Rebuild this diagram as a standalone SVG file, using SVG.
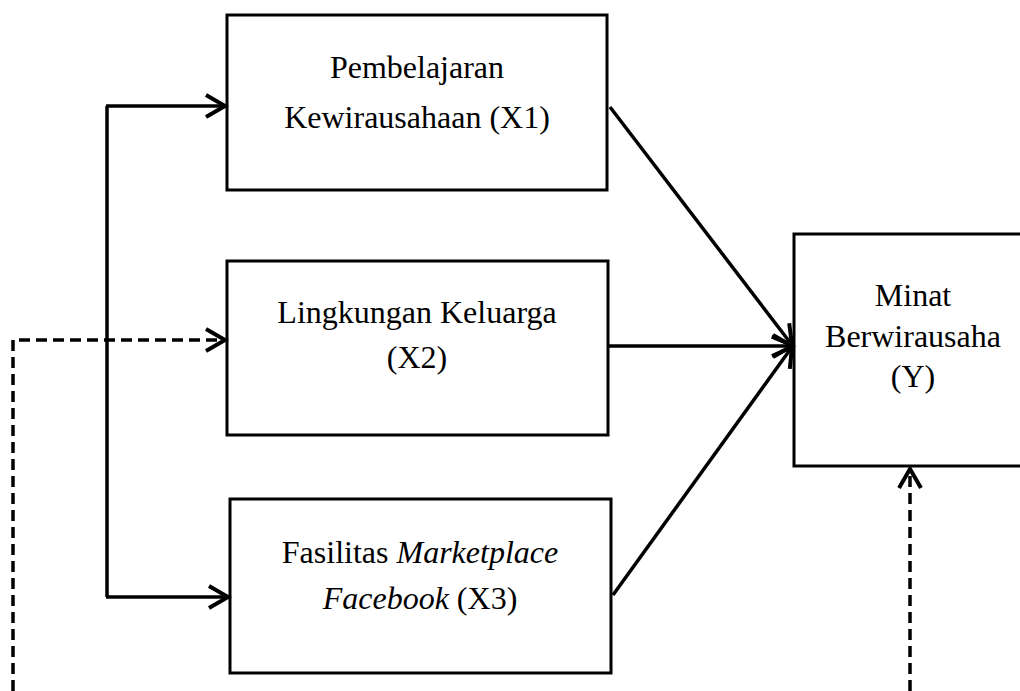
<svg xmlns="http://www.w3.org/2000/svg" width="1020" height="691" viewBox="0 0 1020 691">
<style>
.box{fill:#fff;stroke:#000;stroke-width:3}
.t{font-family:"Liberation Serif","Times New Roman",serif;font-size:32px;fill:#000;text-anchor:middle}
.c{fill:none;stroke:#000;stroke-width:3.5}
.d{fill:none;stroke:#000;stroke-width:3.5;stroke-dasharray:11 6}
</style>
<defs>
<marker id="arr" markerUnits="userSpaceOnUse" viewBox="0 0 24 26" refX="21" refY="13" markerWidth="24" markerHeight="26" orient="auto" overflow="visible">
<path d="M2,2 L21,13 L2,24" fill="none" stroke="#000" stroke-width="4"/>
</marker>
</defs>
<rect width="1020" height="691" fill="#fff"/>
<g id="x1">
<rect class="box" x="227" y="15" width="380" height="175"/>
<text class="t" x="417" y="78">Pembelajaran</text>
<text class="t" x="417" y="128">Kewirausahaan (X1)</text>
</g>
<g id="x2">
<rect class="box" x="227" y="261" width="381" height="174"/>
<text class="t" x="417" y="323">Lingkungan Keluarga</text>
<text class="t" x="417" y="368">(X2)</text>
</g>
<g id="x3">
<rect class="box" x="230" y="499" width="381" height="174"/>
<text class="t" x="420" y="563">Fasilitas <tspan font-style="italic">Marketplace</tspan></text>
<text class="t" x="420" y="609"><tspan font-style="italic">Facebook</tspan> (X3)</text>
</g>
<g id="y">
<rect class="box" x="794" y="234" width="240" height="232"/>
<text class="t" x="913" y="306">Minat</text>
<text class="t" x="913" y="347">Berwirausaha</text>
<text class="t" x="913" y="387">(Y)</text>
</g>
<g id="connectors">
<path class="c" d="M107,106 L107,597"/>
<path class="c" d="M106,106 L225,106" marker-end="url(#arr)"/>
<path class="c" d="M106,597 L228,597" marker-end="url(#arr)"/>
<path class="d" d="M13,691 L13,340 L225,340" marker-end="url(#arr)"/>
<path class="c" d="M610,107 L792,345" marker-end="url(#arr)"/>
<path class="c" d="M608,346 L792,346" marker-end="url(#arr)"/>
<path class="c" d="M613,595 L792,347" marker-end="url(#arr)"/>
<path class="d" d="M910,691 L910,469" marker-end="url(#arr)"/>
</g>
</svg>
